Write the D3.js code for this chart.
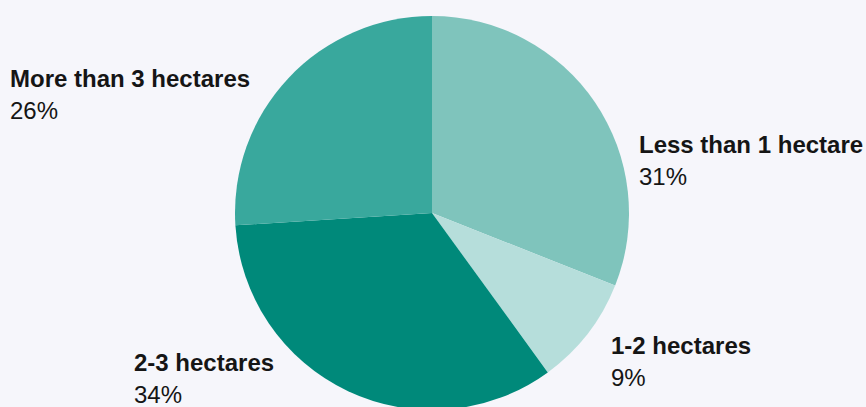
<!DOCTYPE html>
<html>
<head>
<meta charset="utf-8">
<script src="https://cdn.jsdelivr.net/npm/d3@7"></script>
<style>
  html, body { margin: 0; padding: 0; background: #f6f6fb; }
  svg { display: block; }
  text { font-family: "Liberation Sans", Arial, Helvetica, sans-serif; fill: #151515; }
</style>
</head>
<body>
<script>
// Farm size shares, clockwise from 12 o'clock
const categories = ["Less than 1 hectare", "1-2 hectares", "2-3 hectares", "More than 3 hectares"];
const shares = [31, 9, 34, 26];
const colors = ["#7fc4bc", "#b6dedb", "#00897a", "#39a89d"];

const width = 866, height = 407;
const cx = 432, cy = 213, radius = 197;

// Label anchor positions (left x, baseline of the name line)
const labelPos = [
  [639, 153],
  [611, 354],
  [134, 371],
  [10, 87]
];

const svg = d3.select("body").append("svg")
  .attr("width", width)
  .attr("height", height);

const data = categories.map((c, i) => ({ name: c, value: shares[i], color: colors[i] }));

const pie = d3.pie().value(d => d.value).sort(null);
const arc = d3.arc().innerRadius(0).outerRadius(radius);

svg.append("g")
  .attr("transform", `translate(${cx},${cy})`)
  .selectAll("path")
  .data(pie(data))
  .join("path")
  .attr("d", arc)
  .attr("fill", d => d.data.color);

const labels = svg.append("g")
  .selectAll("g")
  .data(data)
  .join("g")
  .attr("transform", (d, i) => `translate(${labelPos[i][0]},${labelPos[i][1]})`);

labels.append("text")
  .attr("font-size", 24)
  .attr("font-weight", 700)
  .text(d => d.name);

labels.append("text")
  .attr("y", 32)
  .attr("font-size", 24)
  .attr("font-weight", 400)
  .text(d => d.value + "%");
</script>
</body>
</html>
